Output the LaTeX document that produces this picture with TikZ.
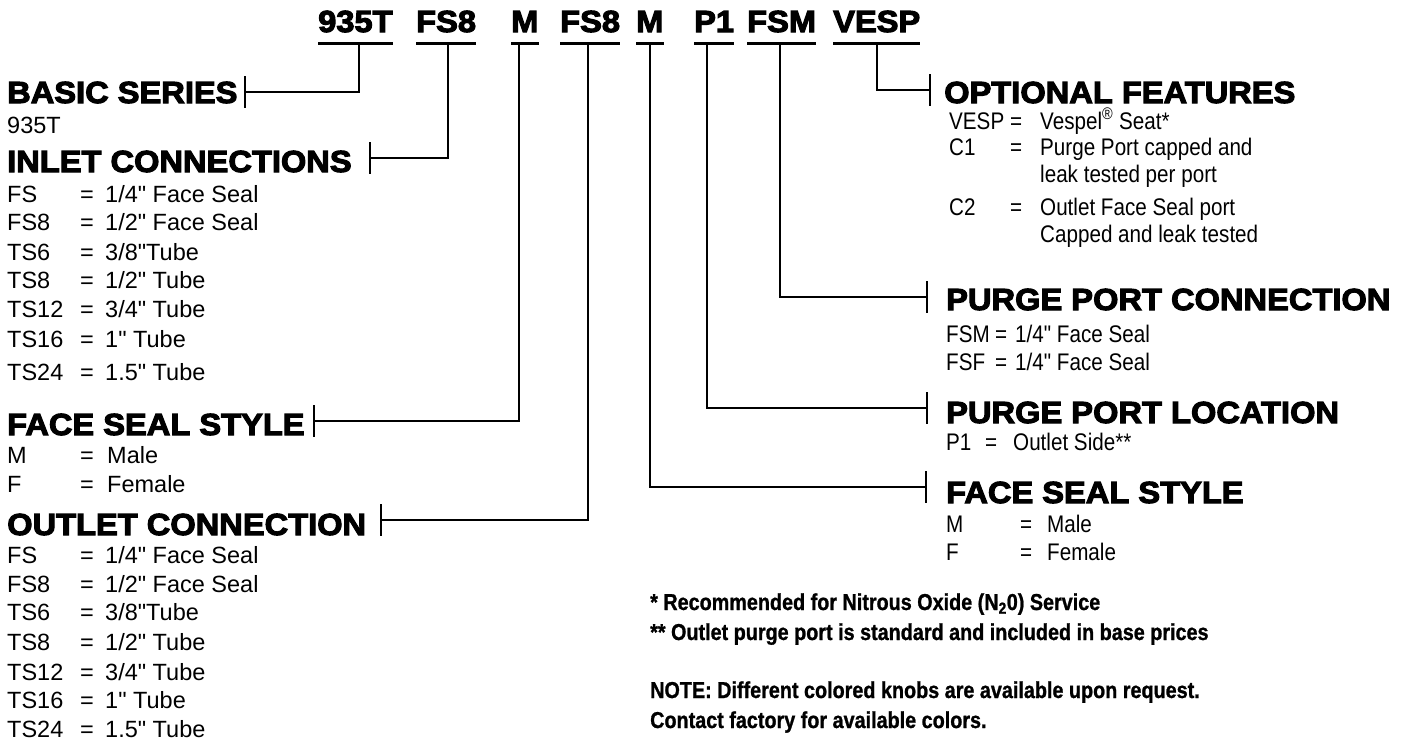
\documentclass[tikz,border=0pt]{standalone}
\usepackage{fontspec}
\setmainfont{Liberation Sans}
\newfontfamily\bodyfont{Liberation Sans}
\newfontfamily\headfont{Liberation Sans Bold}[FakeBold=3.5,FakeStretch=1.07]
\newfontfamily\notefont{Liberation Sans Bold}[FakeBold=1,FakeStretch=0.86]
\newfontfamily\narrowfont{Liberation Sans}[FakeStretch=0.86]
\usetikzlibrary{positioning, calc}

\begin{document}
\begin{tikzpicture}[x=1pt,y=-1pt,
  code/.style={anchor=base west,inner sep=0pt,font=\headfont\fontsize{30.5}{30.5}\selectfont},
  txt/.style={anchor=base west,inner sep=0pt,font=\bodyfont\fontsize{23.5}{23.5}\selectfont},
  rtxt/.style={anchor=base west,inner sep=0pt,font=\narrowfont\fontsize{24}{24}\selectfont},
  note/.style={anchor=base west,inner sep=0pt,font=\notefont\fontsize{23}{23}\selectfont},
  uline/.style={line width=3pt},
  conn/.style={line width=2pt},
  tick/.style={line width=2pt}]
  \useasboundingbox (0,0) rectangle (1403,740);

  % part number
  \node[code] (p1) at (318,32) {935T};
  \node[code] (p2) at (416,32) {FS8};
  \node[code] (p3) at (511,32) {M};
  \node[code] (p4) at (560,32) {FS8};
  \node[code] (p5) at (636,32) {M};
  \node[code] (p6) at (694,32) {P1};
  \node[code] (p7) at (747,32) {FSM};
  \node[code] (p8) at (833,32) {VESP};
  \foreach \p in {p1,p2,p3,p4,p5,p6,p7,p8}
    \draw[uline] ($(\p.base west)+(0,11)$) -- ($(\p.base east)+(0,11)$);

  \coordinate (j1) at (359,43);
  \coordinate (j2) at (448,43);
  \coordinate (j3) at (519,43);
  \coordinate (j4) at (588,43);
  \coordinate (j5) at (650,43);
  \coordinate (j6) at (707,43);
  \coordinate (j7) at (780,43);
  \coordinate (j8) at (877,43);

  % left side
  \node[code] (basic) at (7,103) {BASIC SERIES};
  \node[txt] (basic-1) at (7,133) {935T};
  \coordinate (t-basic) at (245,92);

  \node[code] (inlet) at (7,172) {INLET CONNECTIONS};
  \coordinate (t-inlet) at (370,158);
  \foreach \c/\v/\y in {FS/{1/4" Face Seal}/202, FS8/{1/2" Face Seal}/230,
      TS6/{3/8"Tube}/260, TS8/{1/2" Tube}/288, TS12/{3/4" Tube}/317,
      TS16/{1" Tube}/347, TS24/{1.5" Tube}/380} {
    \node[txt] (in-\c) at (7,\y) {\c};
    \node[txt] (in-\c-eq) at (80,\y) {=};
    \node[txt] (in-\c-v) at (105,\y) {\v};
  }

  \node[code] (faceL) at (7,435) {FACE SEAL STYLE};
  \coordinate (t-faceL) at (314,421);
  \foreach \c/\v/\y in {M/Male/463, F/Female/492} {
    \node[txt] (fl-\c) at (7,\y) {\c};
    \node[txt] (fl-\c-eq) at (80,\y) {=};
    \node[txt] (fl-\c-v) at (107,\y) {\v};
  }

  \node[code] (outlet) at (7,535) {OUTLET CONNECTION};
  \coordinate (t-outlet) at (381,520);
  \foreach \c/\v/\y in {FS/{1/4" Face Seal}/563, FS8/{1/2" Face Seal}/592,
      TS6/{3/8"Tube}/620, TS8/{1/2" Tube}/650, TS12/{3/4" Tube}/680,
      TS16/{1" Tube}/708, TS24/{1.5" Tube}/737} {
    \node[txt] (out-\c) at (7,\y) {\c};
    \node[txt] (out-\c-eq) at (80,\y) {=};
    \node[txt] (out-\c-v) at (105,\y) {\v};
  }

  % right side
  \node[code] (opt) at (944,103) {OPTIONAL FEATURES};
  \coordinate (t-opt) at (930,90);
  \foreach \c/\v/\y in {VESP/{Vespel\textsuperscript{®} Seat*}/129,
      C1/{Purge Port capped and}/155, C2/{Outlet Face Seal port}/215} {
    \node[rtxt] (opt-\c) at (949,\y) {\c};
    \node[rtxt] (opt-\c-eq) at (1010,\y) {=};
    \node[rtxt] (opt-\c-v) at (1040,\y) {\v};
  }
  \node[rtxt] (opt-C1-v2) at (1040,182) {leak tested per port};
  \node[rtxt] (opt-C2-v2) at (1040,242) {Capped and leak tested};

  \node[code] (ppc) at (946,310) {PURGE PORT CONNECTION};
  \coordinate (t-ppc) at (927,297);
  \foreach \c/\y in {FSM/342, FSF/370} {
    \node[rtxt] (ppc-\c) at (946,\y) {\c};
    \node[rtxt] (ppc-\c-eq) at (995,\y) {=};
    \node[rtxt] (ppc-\c-v) at (1015,\y) {1/4" Face Seal};
  }

  \node[code] (ppl) at (946,423) {PURGE PORT LOCATION};
  \coordinate (t-ppl) at (927,408);
  \node[rtxt] (ppl-P1) at (946,450) {P1};
  \node[rtxt] (ppl-P1-eq) at (985,450) {=};
  \node[rtxt] (ppl-P1-v) at (1013,450) {Outlet Side**};

  \node[code] (faceR) at (946,503) {FACE SEAL STYLE};
  \coordinate (t-faceR) at (926,487);
  \foreach \c/\v/\y in {M/Male/532, F/Female/560} {
    \node[rtxt] (fr-\c) at (946,\y) {\c};
    \node[rtxt] (fr-\c-eq) at (1020,\y) {=};
    \node[rtxt] (fr-\c-v) at (1047,\y) {\v};
  }

  % notes
  \node[note] (note1) at (650,610) {* Recommended for Nitrous Oxide (N\textsubscript{2}0) Service};
  \node[note] (note2) at (650,640) {** Outlet purge port is standard and included in base prices};
  \node[note] (note3) at (650,698) {NOTE: Different colored knobs are available upon request.};
  \node[note] (note4) at (650,728) {Contact factory for available colors.};

  % connectors
  \draw[conn] (j1) |- (t-basic);
  \draw[conn] (j2) |- (t-inlet);
  \draw[conn] (j3) |- (t-faceL);
  \draw[conn] (j4) |- (t-outlet);
  \draw[conn] (j5) |- (t-faceR);
  \draw[conn] (j6) |- (t-ppl);
  \draw[conn] (j7) |- (t-ppc);
  \draw[conn] (j8) |- (t-opt);
  \foreach \t in {t-basic,t-inlet,t-faceL,t-outlet,t-opt,t-ppc,t-ppl,t-faceR}
    \draw[tick] ($(\t)+(0,-16)$) -- ($(\t)+(0,16)$);
\end{tikzpicture}
\end{document}
